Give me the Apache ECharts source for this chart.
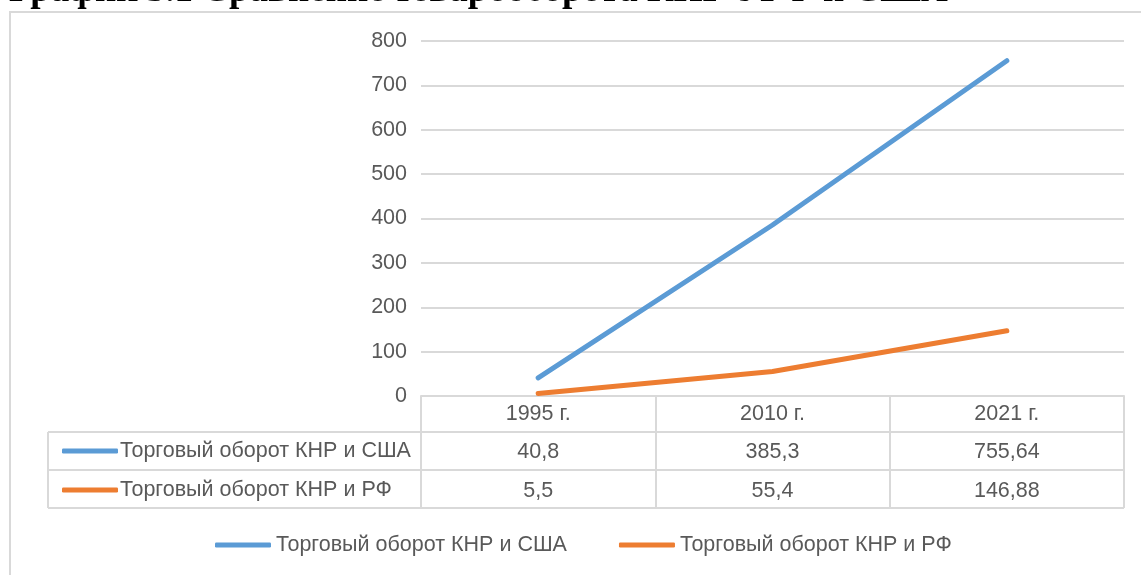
<!DOCTYPE html>
<html><head><meta charset="utf-8">
<script src="https://cdn.jsdelivr.net/npm/echarts@6/dist/echarts.min.js"></script>
<style>html,body{margin:0;padding:0;background:#fff;}#c{width:1141px;height:575px;}</style>
</head><body><div id="c"></div>
<script>
const titleText = 'График 3.1 Сравнение товарооборота КНР с РФ и США';
const categories = ['1995 г.', '2010 г.', '2021 г.'];
const seriesNames = ['Торговый оборот КНР и США', 'Торговый оборот КНР и РФ'];
const usaValues = [40.8, 385.3, 755.64];
const rfValues = [5.5, 55.4, 146.88];
const yTicks = [0, 100, 200, 300, 400, 500, 600, 700, 800];

const FONT = 'Liberation Sans';
const FS = 21.5;
const TXT = '#595959';
const GRID = '#d9d9d9';
const fmt = v => String(v).replace('.', ',');

const chart = echarts.init(document.getElementById('c'));
const gL = 421, gR = 1124, gT = 41, gB = 396;
const row1 = 432, row2 = 470, row3 = 508, tabL = 48;

chart.setOption({
  animation: false,
  grid: {left: gL, right: 1141 - gR, top: gT, bottom: 575 - gB},
  xAxis: [
    {type: 'category', data: categories, boundaryGap: true,
     axisLine: {lineStyle: {color: GRID, width: 2}},
     axisTick: {show: true, interval: 0, length: row3 - gB, lineStyle: {color: GRID, width: 2}},
     axisLabel: {color: TXT, fontFamily: FONT, fontSize: FS, margin: 7}},
    {type: 'category', data: usaValues.map(fmt), position: 'bottom', gridIndex: 0,
     axisLine: {show: false}, axisTick: {show: false},
     axisLabel: {color: TXT, fontFamily: FONT, fontSize: FS, margin: 45}},
    {type: 'category', data: rfValues.map(fmt), position: 'bottom', gridIndex: 0,
     axisLine: {show: false}, axisTick: {show: false},
     axisLabel: {color: TXT, fontFamily: FONT, fontSize: FS, margin: 84}}
  ],
  yAxis: {type: 'value', min: yTicks[0], max: yTicks[yTicks.length - 1], interval: 100,
    axisLine: {show: false}, axisTick: {show: false},
    splitLine: {lineStyle: {color: GRID, width: 2}},
    axisLabel: {color: TXT, fontFamily: FONT, fontSize: FS, margin: 14}},
  legend: [
    {data: seriesNames, orient: 'vertical', left: 62, top: 440, itemGap: 17, padding: 0,
     icon: 'roundRect', itemWidth: 56, itemHeight: 5,
     textStyle: {color: TXT, fontFamily: FONT, fontSize: FS, lineHeight: 22, padding: [0, 0, 0, -3]}},
    {data: seriesNames, orient: 'horizontal', left: 215, top: 534, itemGap: 52, padding: 0,
     icon: 'roundRect', itemWidth: 56, itemHeight: 5,
     textStyle: {color: TXT, fontFamily: FONT, fontSize: FS, lineHeight: 22}}
  ],
  series: [
    {name: seriesNames[0], type: 'line', data: usaValues, xAxisIndex: 0, showSymbol: false,
     lineStyle: {color: '#5b9bd5', width: 5, cap: 'round'}, itemStyle: {color: '#5b9bd5'}},
    {name: seriesNames[1], type: 'line', data: rfValues, xAxisIndex: 0, showSymbol: false,
     lineStyle: {color: '#ed7d31', width: 5, cap: 'round'}, itemStyle: {color: '#ed7d31'}}
  ],
  graphic: [
    {type: 'rect', shape: {x: 10, y: 12, width: 1200, height: 700}, style: {fill: 'none', stroke: GRID, lineWidth: 2}, silent: true},
    {type: 'text', left: 9, top: -27, style: {text: titleText, font: 'bold 37px "Liberation Serif"', fill: '#000'}},
    {type: 'line', shape: {x1: tabL, y1: row1, x2: gR, y2: row1}, style: {stroke: GRID, lineWidth: 2}},
    {type: 'line', shape: {x1: tabL, y1: row2, x2: gR, y2: row2}, style: {stroke: GRID, lineWidth: 2}},
    {type: 'line', shape: {x1: tabL, y1: row3, x2: gR, y2: row3}, style: {stroke: GRID, lineWidth: 2}},
    {type: 'line', shape: {x1: tabL, y1: row1, x2: tabL, y2: row3}, style: {stroke: GRID, lineWidth: 2}}
  ]
});
</script></body></html>
